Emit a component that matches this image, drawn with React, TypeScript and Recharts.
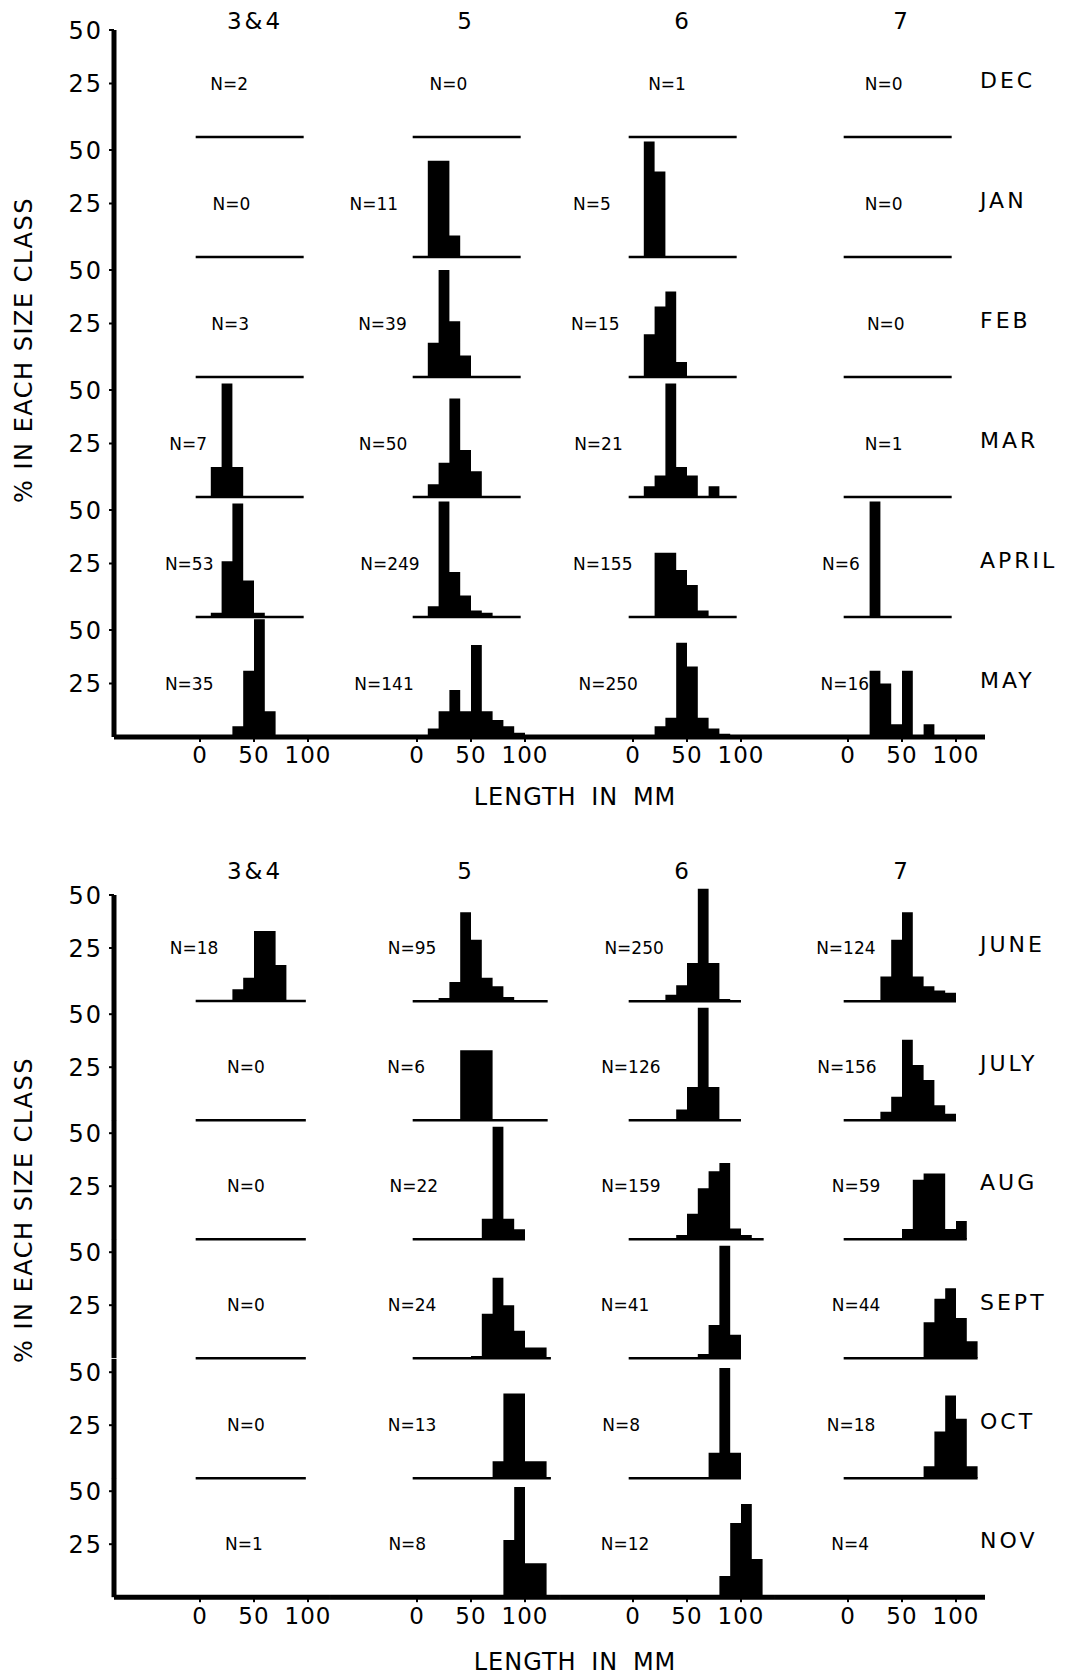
import React from 'react';
import { ComposedChart, Area, XAxis, YAxis, ReferenceLine, ReferenceDot } from 'recharts';

// ---------- DATA ----------
const BIN_STARTS = [0, 10, 20, 30, 40, 50, 60, 70, 80, 90, 100, 110, 120]; // mm, 10-mm size classes
const AGE_CLASSES = ['3&4', '5', '6', '7'];
const MONTHS_TOP = ['DEC', 'JAN', 'FEB', 'MAR', 'APRIL', 'MAY'];
const MONTHS_BOTTOM = ['JUNE', 'JULY', 'AUG', 'SEPT', 'OCT', 'NOV'];
const X_TICKS = [0, 50, 100];
const Y_TICKS = [25, 50];

// sample sizes [3&4, 5, 6, 7]
const N_TOP = [
  [2, 0, 1, 0],
  [0, 11, 5, 0],
  [3, 39, 15, 0],
  [7, 50, 21, 1],
  [53, 249, 155, 6],
  [35, 141, 250, 16],
];
const N_BOTTOM = [
  [18, 95, 250, 124],
  [0, 6, 126, 156],
  [0, 22, 159, 59],
  [0, 24, 41, 44],
  [0, 13, 8, 18],
  [1, 8, 12, 4],
];

// % in each 10-mm size class (index = BIN_STARTS index), per age class
const H_DEC = [[], [], [], []];
const H_JAN = [[], [0, 45, 45, 10], [0, 54, 40], []];
const H_FEB = [[], [0, 16, 50, 26, 10], [0, 20, 33, 40, 7], []];
const H_MAR = [[0, 14, 53, 14], [0, 6, 16, 46, 22, 12], [0, 5, 10, 53, 14, 10, 0, 5], []];
const H_APRIL = [[0, 2, 26, 53, 17, 2], [0, 5, 54, 21, 10, 3, 2], [0, 0, 30, 30, 22, 15, 3], [0, 0, 54]];
const H_MAY = [[0, 0, 0, 5, 31, 55, 12], [0, 4, 12, 22, 12, 43, 12, 8, 5, 2], [0, 0, 5, 9, 44, 33, 9, 4, 1.5], [0, 0, 31, 25, 6, 31, 0, 6]];
const H_JUNE = [[0, 0, 0, 5.6, 11, 33, 33, 17], [0, 0, 1.5, 9, 42, 29, 11, 7, 2], [0, 0, 0, 3, 7.5, 18, 53, 18, 1], [0, 0, 0, 11.6, 29, 42, 11.6, 7, 5, 4]];
const H_JULY = [[], [0, 0, 0, 0, 33, 33, 33], [0, 0, 0, 0, 5, 15.6, 53, 15.6], [0, 0, 0, 4, 11, 38, 26, 19, 7, 3]];
const H_AUG = [[], [0, 0, 0, 0, 0, 0, 9.6, 53, 9.6, 4.7], [0, 0, 0, 0, 2, 12, 24, 32, 36, 5, 2], [0, 0, 0, 0, 0, 4.8, 28, 31, 31, 4.8, 8.6]];
const H_SEPT = [[], [0, 0, 0, 0, 0, 1, 21, 38, 25, 13, 5, 5], [0, 0, 0, 0, 0, 0, 2, 15.6, 53, 11], [0, 0, 0, 0, 0, 0, 0, 17, 28, 33, 19, 8]];
const H_OCT = [[], [0, 0, 0, 0, 0, 0, 0, 8, 40, 40, 8, 8], [0, 0, 0, 0, 0, 0, 0, 12, 52, 12], [0, 0, 0, 0, 0, 0, 0, 5.6, 22, 39, 28, 5.6]];
const H_NOV = [[], [0, 0, 0, 0, 0, 0, 0, 0, 27, 52, 16, 16], [0, 0, 0, 0, 0, 0, 0, 0, 10, 35, 44, 18], []];

// ---------- LAYOUT ----------
const FONT = "'DejaVu Sans', 'Liberation Sans', sans-serif";
const PX_PER_MM = 1.08;
const COL_ZERO = [200, 417, 633, 848];
const COL_L = [114, 330, 560, 775];
const COL_R = [330, 560, 775, 985];
const HEADER_X = [255, 466, 683, 902];
const MONTH_X = 980;
const YAXIS_W = 62;
const XAXIS_H = 36;
const M = 14;

// N-label centres in mm (each cell's own axis units)
const NX_TOP = [
  [27, 29, 31.5, 33],
  [29, -40, -38, 33],
  [28, -32, -35, 35],
  [-11, -31.5, -32, 33],
  [-10, -25, -28, -6.5],
  [-10, -30.5, -23, -3],
];
const NX_BOTTOM = [
  [-5.5, -4.6, 1, -2],
  [42.6, -10, -2, -1],
  [42.6, -3, -2, 7.4],
  [42.6, -4.6, -7.4, 7.4],
  [42.6, -4.6, -11, 2.8],
  [40.7, -9, -7.4, 2],
];
// drawn length of each thin base line (mm)
const LINE_END_TOP = [
  [96, 96, 96, 96],
  [96, 96, 96, 96],
  [96, 96, 96, 96],
  [96, 96, 96, 96],
  [96, 96, 96, 96],
  [96, 96, 96, 96],
];
const LINE_END_BOTTOM = [
  [98, 121, 100, 100],
  [98, 121, 100, 100],
  [98, 100, 121, 110],
  [98, 124, 100, 120],
  [98, 124, 100, 120],
  [98, 124, 120, 120],
];

const PANELS = [
  {
    base0: 137, step: 120, pxPerPct: 2.14, months: MONTHS_TOP, n: N_TOP, nx: NX_TOP, lineEnd: LINE_END_TOP,
    hist: [H_DEC, H_JAN, H_FEB, H_MAR, H_APRIL, H_MAY],
    headerY: 21, yLabelY: 350, xLabelY: 797,
  },
  {
    base0: 1001, step: 119.2, pxPerPct: 2.12, months: MONTHS_BOTTOM, n: N_BOTTOM, nx: NX_BOTTOM, lineEnd: LINE_END_BOTTOM,
    hist: [H_JUNE, H_JULY, H_AUG, H_SEPT, H_OCT, H_NOV],
    headerY: 871, yLabelY: 1210, xLabelY: 1662,
  },
];

type Panel = typeof PANELS[number];

function Cell({ panel, r, c }: { panel: Panel; r: number; c: number }) {
  const isBottom = r === 5;
  const baseline = panel.base0 + r * panel.step;
  const plotH = r === 0 && c === 0 ? 50 * panel.pxPerPct : panel.step;
  const yMax = plotH / panel.pxPerPct;
  const plotTop = baseline - plotH;
  const yw = c === 0 ? YAXIS_W : 0;
  const left = COL_L[c] - yw;
  const width = COL_R[c] - COL_L[c] + yw;
  const bottomM = isBottom ? 0 : M;
  const height = plotH + M + bottomM + (isBottom ? XAXIS_H : 0);
  const xDomain: [number, number] = [
    (COL_L[c] - COL_ZERO[c]) / PX_PER_MM,
    (COL_R[c] - COL_ZERO[c]) / PX_PER_MM,
  ];
  const values: number[] = panel.hist[r][c];
  const data = BIN_STARTS.map((x, i) => ({ x, v: values[i] ?? 0 }));
  data.push({ x: BIN_STARTS[BIN_STARTS.length - 1] + 10, v: 0 });
  let lastEnd = 0;
  values.forEach((v, i) => {
    if (v > 0) lastEnd = BIN_STARTS[i] + 10;
  });
  const lineEnd = Math.max(panel.lineEnd[r][c], lastEnd);

  return (
    <div style={{ position: 'absolute', left, top: plotTop - M, width, height }}>
      <ComposedChart width={width} height={height} data={data} margin={{ top: M, right: 0, bottom: bottomM, left: 0 }}>
        <XAxis
          type="number"
          dataKey="x"
          domain={xDomain}
          allowDataOverflow
          hide={!isBottom}
          height={XAXIS_H}
          ticks={X_TICKS}
          interval={0}
          axisLine={{ stroke: '#000', strokeWidth: 5 }}
          tickLine={{ stroke: '#000', strokeWidth: 2 }}
          tickSize={5}
          tickMargin={5}
          tick={{ fill: '#000', fontSize: 23, fontFamily: FONT, letterSpacing: 1 }}
        />
        <YAxis
          type="number"
          domain={[0, yMax]}
          allowDataOverflow
          hide={c !== 0}
          width={yw}
          ticks={Y_TICKS}
          interval={0}
          axisLine={{ stroke: '#000', strokeWidth: 5 }}
          tickLine={{ stroke: '#000', strokeWidth: 2 }}
          tickSize={5}
          tickMargin={6}
          tick={{ fill: '#000', fontSize: 24, fontFamily: FONT, letterSpacing: 2 }}
        />
        <Area
          type="stepAfter"
          dataKey="v"
          stroke="none"
          fill="#000"
          fillOpacity={1}
          isAnimationActive={false}
          dot={false}
          activeDot={false}
        />
        {!isBottom && (
          <ReferenceLine
            segment={[{ x: -4, y: 0 }, { x: lineEnd, y: 0 }]}
            stroke="#000"
            strokeWidth={2.5}
          />
        )}
        <ReferenceDot
          x={panel.nx[r][c]}
          y={25}
          r={0}
          fill="none"
          stroke="none"
          label={{ value: `N=${panel.n[r][c]}`, position: 'center', fill: '#000', fontSize: 17, fontFamily: FONT }}
        />
      </ComposedChart>
    </div>
  );
}

const textStyle: React.CSSProperties = {
  position: 'absolute',
  fontFamily: FONT,
  color: '#000',
  whiteSpace: 'nowrap',
  lineHeight: 1,
};

function PanelView({ panel }: { panel: Panel }) {
  const cells: React.ReactNode[] = [];
  for (let r = 0; r < 6; r++) {
    for (let c = 0; c < 4; c++) {
      cells.push(<Cell key={`${r}-${c}`} panel={panel} r={r} c={c} />);
    }
  }
  return (
    <>
      {cells}
      {AGE_CLASSES.map((a, c) => (
        <div
          key={a}
          style={{ ...textStyle, left: HEADER_X[c], top: panel.headerY, fontSize: 23, letterSpacing: 3, transform: 'translate(-50%, -50%)' }}
        >
          {a}
        </div>
      ))}
      {panel.months.map((m, r) => (
        <div
          key={m}
          style={{ ...textStyle, left: MONTH_X, top: panel.base0 + r * panel.step - 56, fontSize: 22, letterSpacing: 3, transform: 'translate(0, -50%)' }}
        >
          {m}
        </div>
      ))}
      <div
        style={{ ...textStyle, left: 24, top: panel.yLabelY, fontSize: 24, letterSpacing: 1.5, transform: 'translate(-50%, -50%) rotate(-90deg)' }}
      >
        % IN EACH SIZE CLASS
      </div>
      <div
        style={{ ...textStyle, left: 575, top: panel.xLabelY, fontSize: 24, letterSpacing: 1, wordSpacing: 6, transform: 'translate(-50%, -50%)' }}
      >
        LENGTH IN MM
      </div>
    </>
  );
}

export default function App() {
  return (
    <div style={{ position: 'absolute', left: 0, top: 0, width: 1066, height: 1676, background: '#fff', overflow: 'hidden' }}>
      {PANELS.map((p, i) => (
        <PanelView key={i} panel={p} />
      ))}
    </div>
  );
}
